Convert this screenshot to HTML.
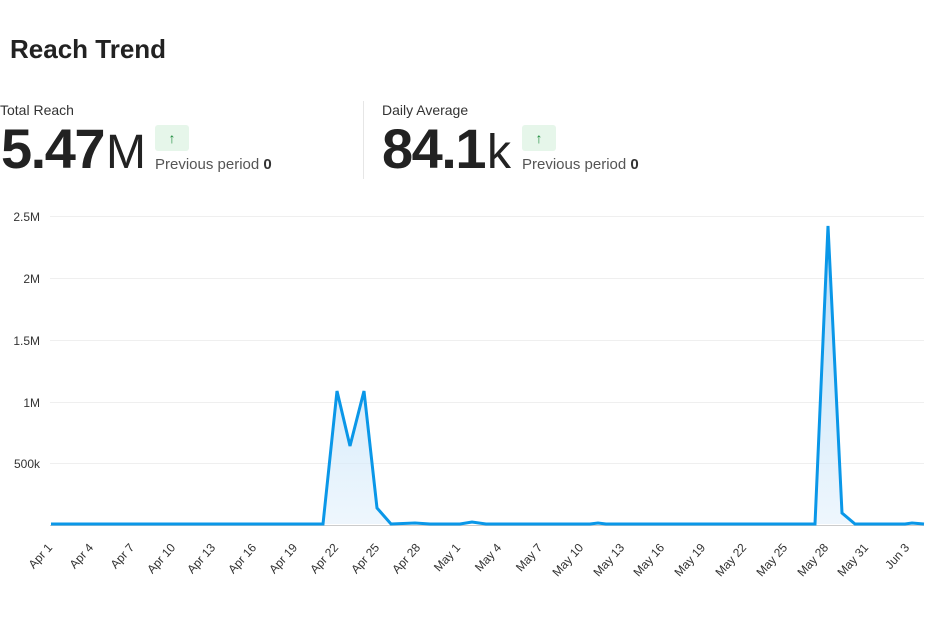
<!DOCTYPE html>
<html><head><meta charset="utf-8"><style>
body{margin:0;width:936px;height:633px;background:#fff;overflow:hidden;font-family:"Liberation Sans",sans-serif}
</style></head><body>
<svg width="936" height="633" xmlns="http://www.w3.org/2000/svg" font-family="Liberation Sans, sans-serif">
<defs><linearGradient id="g" x1="0" y1="0" x2="0" y2="1"><stop offset="0" stop-color="#9fd0f5" stop-opacity="0.75"/><stop offset="1" stop-color="#e3f1fc" stop-opacity="0.6"/></linearGradient></defs>
<text x="10" y="58" font-size="26" font-weight="bold" fill="#222">Reach Trend</text>
<text x="0" y="115" font-size="14" fill="#333">Total Reach</text>
<text x="1" y="168" font-size="56" font-weight="bold" fill="#222" letter-spacing="-1.5">5.47<tspan font-weight="normal" font-size="48" letter-spacing="0" dx="2">M</tspan></text>
<rect x="155" y="125" width="34" height="26" rx="3" fill="#e6f6ea"/>
<text x="172" y="143" font-size="14" fill="#1a8a3a" text-anchor="middle">↑</text>
<text x="155" y="169" font-size="15" fill="#555">Previous period <tspan font-weight="bold" fill="#333">0</tspan></text>
<line x1="363.5" y1="101" x2="363.5" y2="179" stroke="#e6e6e6"/>
<text x="382" y="115" font-size="14" fill="#333">Daily Average</text>
<text x="382" y="168" font-size="56" font-weight="bold" fill="#222" letter-spacing="-1.5">84.1<tspan font-weight="normal" font-size="48" letter-spacing="0" dx="2">k</tspan></text>
<rect x="522" y="125" width="34" height="26" rx="3" fill="#e6f6ea"/>
<text x="539" y="143" font-size="14" fill="#1a8a3a" text-anchor="middle">↑</text>
<text x="522" y="169" font-size="15" fill="#555">Previous period <tspan font-weight="bold" fill="#333">0</tspan></text>
<g stroke="#efefef" stroke-width="1">
<line x1="50" y1="216.5" x2="924" y2="216.5"/><line x1="50" y1="278.5" x2="924" y2="278.5"/><line x1="50" y1="340.5" x2="924" y2="340.5"/><line x1="50" y1="402.5" x2="924" y2="402.5"/><line x1="50" y1="463.5" x2="924" y2="463.5"/>
</g>
<line x1="50" y1="525.5" x2="924" y2="525.5" stroke="#ccc"/>
<g font-size="12" fill="#333" text-anchor="end">
<text x="40" y="221">2.5M</text><text x="40" y="283">2M</text><text x="40" y="345">1.5M</text><text x="40" y="407">1M</text><text x="40" y="468">500k</text>
</g>
<path d="M51,524 L323,524 L337,391 L350,446 L364,391 L377,508 L391,524 L415,523 L430,524 L472,522 L486,524 L815,524 L828,226 L842,513 L855,524 L924,524 Z" fill="url(#g)"/>
<polyline points="51,524 323,524 337,391 350,446 364,391 377,508 391,524 415,523 430,524 460,524 472,522 486,524 590,524 598,523 606,524 815,524 828,226 842,513 855,524 905,524 912,523 924,524" fill="none" stroke="#0a97e8" stroke-width="3" stroke-linejoin="miter"/>
<g font-size="12" fill="#333" text-anchor="end">
<text transform="translate(53,548) rotate(-48)">Apr 1</text>
<text transform="translate(94,548) rotate(-48)">Apr 4</text>
<text transform="translate(135,548) rotate(-48)">Apr 7</text>
<text transform="translate(176,548) rotate(-48)">Apr 10</text>
<text transform="translate(216,548) rotate(-48)">Apr 13</text>
<text transform="translate(257,548) rotate(-48)">Apr 16</text>
<text transform="translate(298,548) rotate(-48)">Apr 19</text>
<text transform="translate(339,548) rotate(-48)">Apr 22</text>
<text transform="translate(380,548) rotate(-48)">Apr 25</text>
<text transform="translate(421,548) rotate(-48)">Apr 28</text>
<text transform="translate(461,548) rotate(-48)">May 1</text>
<text transform="translate(502,548) rotate(-48)">May 4</text>
<text transform="translate(543,548) rotate(-48)">May 7</text>
<text transform="translate(584,548) rotate(-48)">May 10</text>
<text transform="translate(625,548) rotate(-48)">May 13</text>
<text transform="translate(665,548) rotate(-48)">May 16</text>
<text transform="translate(706,548) rotate(-48)">May 19</text>
<text transform="translate(747,548) rotate(-48)">May 22</text>
<text transform="translate(788,548) rotate(-48)">May 25</text>
<text transform="translate(829,548) rotate(-48)">May 28</text>
<text transform="translate(869,548) rotate(-48)">May 31</text>
<text transform="translate(910,548) rotate(-48)">Jun 3</text>
</g>
</svg>
</body></html>
